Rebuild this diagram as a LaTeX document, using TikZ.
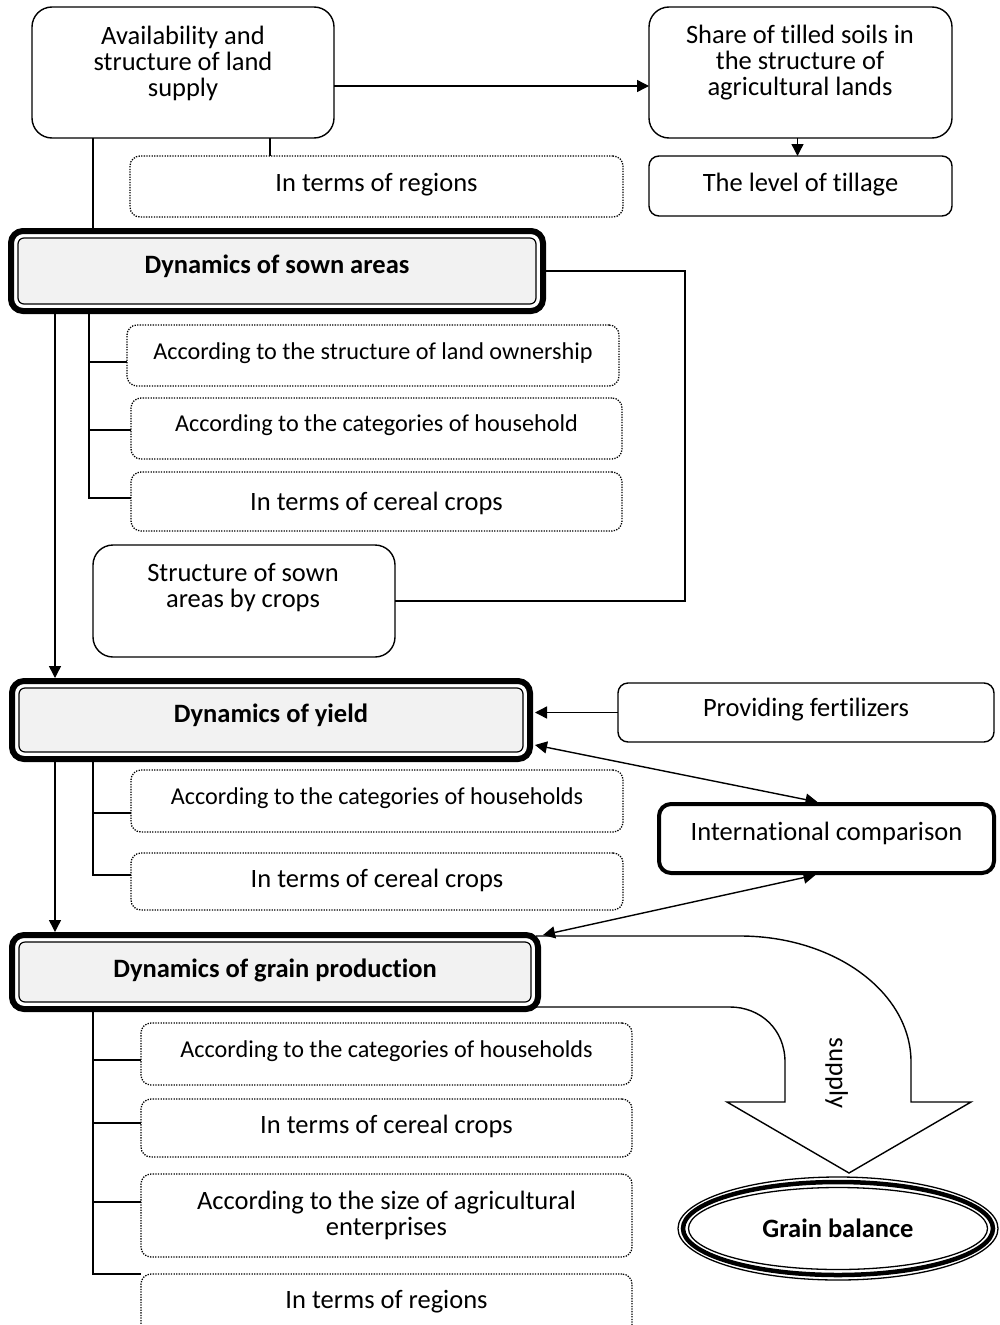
\documentclass[tikz,border=0pt]{standalone}
\usepackage{fontspec}
\setmainfont{Carlito}[Ligatures=NoCommon, RawFeature={-liga;-clig;-calt;-dlig}]
\usetikzlibrary{arrows.meta,shapes.geometric,calc}
\definecolor{panelgray}{HTML}{F2F2F2}
\begin{document}
\begin{tikzpicture}[x=1pt,y=-1pt,
  every node/.style={font=\fontsize{26.5}{26}\selectfont, inner sep=0pt, outer sep=0pt, align=center},
  oneline/.style={text height=18pt, text depth=#1},
  oneline/.default=1pt,
  narrowtext/.style={font=\fontsize{24.2}{26}\selectfont},
  link/.style={line width=1.4pt},
  arr/.style={link, -{Triangle[length=12pt,width=12pt]}},
  arrboth/.style={link, {Triangle[length=12pt,width=12pt]}-{Triangle[length=12pt,width=12pt]}},
  plainbox/.style={draw, line width=1.4pt, rounded corners=10pt},
  tallbox/.style={draw, line width=1.4pt, rounded corners=20pt},
  dotbox/.style={draw, line width=1.3pt, dash pattern=on 1.3pt off 1.3pt, rounded corners=10pt},
  dynbox/.style={draw, line width=6pt, rounded corners=12pt, fill=white,
    font=\fontsize{26.5}{26}\selectfont\bfseries,
    path picture={\draw[line width=1.2pt, fill=panelgray, rounded corners=6pt]
      ([shift={(7pt,-7pt)}]path picture bounding box.north west) rectangle
      ([shift={(-7pt,7pt)}]path picture bounding box.south east);}},
  keybox/.style={draw, line width=4pt, rounded corners=12pt},
]
\useasboundingbox (0,0) rectangle (999,1325);

% the wide bent arrow from grain production down to the balance
\draw[link, fill=white] (536,1007) -- (730,1007)
  .. controls (760,1007) and (785,1029) .. (785,1062) -- (785,1102)
  -- (727,1102) -- (849,1173) -- (971,1102) -- (911,1102) -- (911,1062)
  .. controls (911,992) and (834,936) .. (740,936) -- (536,936);
\node[rotate=-90, oneline] (supplylbl) at (838,1073) {supply};

% top row
\node[tallbox, minimum width=302pt, minimum height=131pt] (land) at (183,72.5) {};
\node (landtext) at (183,63) {Availability and\\structure of land\\supply};
\node[tallbox, minimum width=303pt, minimum height=131pt] (share) at (800.5,72.5) {};
\node (sharetext) at (800,63) {Share of tilled soils in\\the structure of\\agricultural lands};
\node[plainbox, oneline=7pt, minimum width=303pt, minimum height=60pt] (tillage) at (800.5,186) {The level of tillage};
\node[dotbox, oneline=8pt, minimum width=493pt, minimum height=61pt] (regions) at (376.5,186.5) {In terms of regions};

% sown areas block
\node[dynbox, oneline=13pt, minimum width=532pt, minimum height=80pt] (sown) at (277,271) {Dynamics of sown areas};
\node[dotbox, narrowtext, oneline=11pt, minimum width=492pt, minimum height=61pt] (sA1) at (373,355.5) {According to the structure of land ownership};
\node[dotbox, narrowtext, oneline=13pt, minimum width=491pt, minimum height=61pt] (sA2) at (376.5,428.5) {According to the categories of household};
\node[dotbox, oneline, minimum width=491pt, minimum height=59pt] (sA3) at (376.5,501.5) {In terms of cereal crops};
\node[tallbox, minimum width=302pt, minimum height=112pt] (struct) at (244,601) {};
\node (structtext) at (243,588) {Structure of sown\\areas by crops};

% yield block
\node[dynbox, oneline=13pt, minimum width=518pt, minimum height=78pt] (yield) at (271,720) {Dynamics of yield};
\node[plainbox, oneline=10pt, minimum width=376pt, minimum height=59pt] (fert) at (806,712.5) {Providing fertilizers};
\node[dotbox, narrowtext, oneline=11pt, minimum width=492pt, minimum height=62pt] (yA1) at (377,801) {According to the categories of households};
\node[dotbox, oneline=7pt, minimum width=492pt, minimum height=57pt] (yA2) at (377,881.5) {In terms of cereal crops};
\node[keybox, oneline=15pt, minimum width=335pt, minimum height=69pt] (intl) at (826.5,838.5) {International comparison};

% grain production block
\node[dynbox, oneline=7pt, minimum width=526pt, minimum height=74pt] (grain) at (275,972) {Dynamics of grain production};
\node[dotbox, narrowtext, oneline=11pt, minimum width=491pt, minimum height=62pt] (gA1) at (386.5,1054) {According to the categories of households};
\node[dotbox, oneline=7pt, minimum width=491pt, minimum height=58pt] (gA2) at (386.5,1128) {In terms of cereal crops};
\node[dotbox, minimum width=491pt, minimum height=83pt] (gA3) at (386.5,1215.5) {According to the size of agricultural\\enterprises};
\node[dotbox, oneline=11pt, minimum width=491pt, minimum height=61pt] (gA4) at (386.5,1304.5) {In terms of regions};

% grain balance
\node[ellipse, draw, line width=1.3pt, minimum width=320pt, minimum height=103pt, oneline,
  font=\fontsize{26.5}{26}\selectfont\bfseries,
  path picture={
    \draw[line width=4.5pt] (path picture bounding box.center) ellipse [x radius=155pt, y radius=46.5pt];
    \draw[line width=1.3pt] (path picture bounding box.center) ellipse [x radius=149.5pt, y radius=41pt];
  }] (balance) at (838,1228.5) {Grain balance};

% guide columns for the vertical links
\coordinate (xLeft) at (55,0);
\coordinate (xLandDrop) at (93,0);
\coordinate (xRegDrop) at (270,0);
\coordinate (xSownTrunk) at (89,0);
\coordinate (xYieldTrunk) at (93,0);
\coordinate (xGrainTrunk) at (93,0);
\coordinate (xLoop) at (685,0);

% links in the top part
\draw[link] (land.south -| xLandDrop) -- (sown.north -| xLandDrop);
\draw[link] (land.south -| xRegDrop) -- (regions.north -| xRegDrop);
\draw[arr] ($(land.east)+(0,13.5)$) -- ($(share.west)+(0,13.5)$);
\draw[arr] ($(share.south)+(-3,0)$) -- ($(tillage.north)+(-3,0)$);

% sown areas branches
\draw[link] (sown.south -| xSownTrunk) |- ($(sA1.west)+(0,6.5)$);
\draw[link] (sown.south -| xSownTrunk) |- ($(sA2.west)+(0,1.5)$);
\draw[link] (sown.south -| xSownTrunk) |- ($(sA3.west)+(0,-3.5)$);
\draw[link] (sown.east) -| (xLoop |- struct.east) -- (struct.east);
\draw[arr] (sown.south -| xLeft) -- ($(yield.north -| xLeft)+(0,-3)$);

% yield branches and side links
\draw[link] (yield.south -| xYieldTrunk) |- ($(yA1.west)+(0,12)$);
\draw[link] (yield.south -| xYieldTrunk) |- ($(yA2.west)+(0,-6.5)$);
\draw[arr] (fert.west) -- ($(yield.east |- fert.west)+(5,0)$);
\draw[arrboth] ($(yield.east)+(5,25)$) -- ($(intl.north)+(-9,-2)$);
\draw[arrboth] ($(intl.south)+(-11,2)$) -- ($(grain.north east)+(5,0)$);
\draw[arr] (yield.south -| xLeft) -- ($(grain.north -| xLeft)+(0,-3)$);

% grain production branches
\draw[link] (grain.south -| xGrainTrunk) |- ($(gA1.west)+(0,6)$);
\draw[link] (grain.south -| xGrainTrunk) |- ($(gA2.west)+(0,-5)$);
\draw[link] (grain.south -| xGrainTrunk) |- ($(gA3.west)+(0,-13.5)$);
\draw[link] (grain.south -| xGrainTrunk) |- (gA4.north west);
\end{tikzpicture}
\end{document}
